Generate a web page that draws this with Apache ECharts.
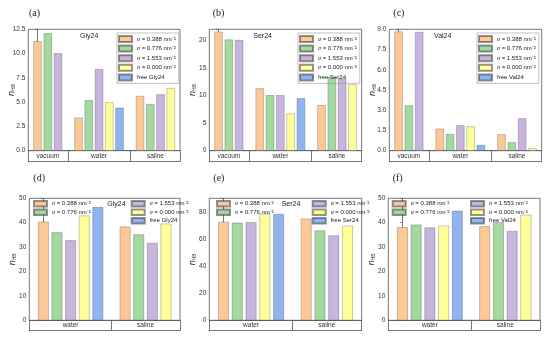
<!DOCTYPE html>
<html><head><meta charset="utf-8">
<script src="https://cdn.jsdelivr.net/npm/echarts@6/dist/echarts.min.js"></script>
<style>html,body{margin:0;padding:0;background:#fff}#c{width:550px;height:339px}</style>
</head><body><div id="c"></div>
<script>
// ---------- data ----------
const sigmaNames = ['σ = 0.388 nm⁻²', 'σ = 0.776 nm⁻²', 'σ = 1.553 nm⁻²', 'σ = 0.000 nm⁻²'];
const topGroups = ['vacuum', 'water', 'saline'];
const bottomGroups = ['water', 'saline'];

// (a) Gly24 — vacuum, water, saline
const a388 = [11.26, 3.40, 5.63];
const a776 = [12.09, 5.20, 4.80];
const a1553 = [10.03, 8.40, 5.80];
const a000 = [null, 4.98, 6.45];
const aFree = [null, 4.42, null];
// (b) Ser24
const b388 = [21.57, 11.30, 8.25];
const b776 = [20.15, 10.05, 13.37];
const b1553 = [20.05, 10.05, 13.07];
const b000 = [null, 6.75, 12.00];
const bFree = [null, 9.50, null];
// (c) Val24
const c388 = [8.83, 1.63, 1.21];
const c776 = [3.36, 1.24, 0.62];
const c1553 = [8.80, 1.88, 2.40];
const c000 = [null, 1.80, 0.18];
const cFree = [null, 0.42, null];
// (d) Gly24 — water, saline
const d388 = [40.4, 38.4];
const d776 = [36.1, 35.2];
const d1553 = [32.8, 31.7];
const d000 = [42.9, 39.6];
const dFree = [46.4, null];
// (e) Ser24
const e388 = [72.5, 75.0];
const e776 = [72.0, 66.3];
const e1553 = [72.3, 62.6];
const e000 = [78.5, 69.8];
const eFree = [78.5, null];
// (f) Val24
const f388 = [38.1, 38.5];
const f776 = [39.2, 40.2];
const f1553 = [38.0, 36.6];
const f000 = [38.8, 43.2];
const fFree = [44.9, null];

const freeNames = ['free Gly24', 'free Ser24', 'free Val24'];

// y tick settings
const yMaxes = [12.5, 22, 9, 50, 90, 50];
const yIntervals = [2.5, 5, 1.5, 10, 20, 10];
const yDecimals = [1, 0, 1, 0, 0, 0];
const panelLabels = ['(a)', '(b)', '(c)', '(d)', '(e)', '(f)'];
const innerTitles = ['Gly24', 'Ser24', 'Val24', 'Gly24', 'Ser24', ''];

// ---------- styles / layout ----------
const colors = ['#FDC897', '#A3D99F', '#C7B5DD', '#FFFF99', '#90B4EF'];
const FONT = 'Liberation Sans, Arial, sans-serif';
const SERIF = 'Liberation Serif, Times New Roman, serif';

const panels = [
  {vals: [a388, a776, a1553, a000, aFree], groups: topGroups, free: freeNames[0],
   grid: {left: 28.3, top: 29.3, width: 151.7, height: 121.4}, band: 11, pad: 0.9, barW: 8.3,
   label: [29, 8], title: [80, 33], legend: 'top', legPos: [117, 33]},
  {vals: [b388, b776, b1553, b000, bFree], groups: topGroups, free: freeNames[1],
   grid: {left: 209.3, top: 29.3, width: 152.4, height: 121.4}, band: 11, pad: 0.9, barW: 8.3,
   label: [212.7, 8], title: [253.3, 33], legend: 'top', legPos: [298, 33]},
  {vals: [c388, c776, c1553, c000, cFree], groups: topGroups, free: freeNames[2],
   grid: {left: 389.3, top: 29.3, width: 152.4, height: 121.4}, band: 11, pad: 0.9, barW: 8.3,
   label: [393.3, 8], title: [434, 33], legend: 'top', legPos: [477, 33]},
  {vals: [d388, d776, d1553, d000, dFree], groups: bottomGroups, free: freeNames[0],
   grid: {left: 29.3, top: 198.3, width: 150.7, height: 122}, band: 10.4, pad: 1.03, barW: 10.7,
   label: [33.3, 173], title: [107.3, 201], legend: 'bottom', legPos: [33, 200], legPos2: [130.7, 200]},
  {vals: [e388, e776, e1553, e000, eFree], groups: bottomGroups, free: freeNames[1],
   grid: {left: 209.3, top: 198.3, width: 152.4, height: 122}, band: 10.4, pad: 1.03, barW: 10.7,
   label: [213.3, 173], title: [281.7, 201], legend: 'bottom', legPos: [216, 200], legPos2: [311.7, 200]},
  {vals: [f388, f776, f1553, f000, fFree], groups: bottomGroups, free: freeNames[2],
   grid: {left: 388.3, top: 198.3, width: 151.7, height: 122}, band: 10.4, pad: 1.03, barW: 10.7,
   label: [392.7, 173], title: [0, 0], legend: 'bottom', legPos: [391.7, 200], legPos2: [470, 200]}
];

function slotLayout(vals, nGroups) {
  const pos = vals.map(() => []);
  const centers = [], seps = [];
  let start = 0;
  for (let g = 0; g < nGroups; g++) {
    let k = 0;
    vals.forEach((v, s) => { if (v[g] != null) { pos[s][g] = start + k; k++; } });
    centers.push(start + (k - 1) / 2);
    start += k;
    if (g < nGroups - 1) { seps.push(start); start += 1; }
  }
  return {pos, centers, seps, last: start - 1};
}

const grids = [], xAxes = [], yAxes = [], series = [], legends = [], titles = [];
const AX = '#555', TX = '#333';

function legendFormatter(name) {
  return name.charAt(0) === 'σ' ? '{i|σ}' + name.slice(1) : name;
}

panels.forEach((p, i) => {
  const nG = p.groups.length;
  const L = slotLayout(p.vals, nG);
  const xmin = -p.pad, xmax = L.last + p.pad;
  grids.push(Object.assign({show: true, borderColor: AX, borderWidth: 0.8, containLabel: false}, p.grid));
  // bar axis
  xAxes.push({gridIndex: i, type: 'value', min: xmin, max: xmax, position: 'bottom',
    axisLine: {show: true, onZero: false, lineStyle: {color: AX, width: 0.8}},
    axisTick: {show: false}, axisLabel: {show: false}, splitLine: {show: false}});
  // category band axis
  const centers = L.centers;
  const groups = p.groups;
  xAxes.push({gridIndex: i, type: 'value', min: xmin, max: xmax, position: 'bottom', offset: p.band,
    axisLine: {show: true, onZero: false, lineStyle: {color: AX, width: 0.8}},
    axisTick: {show: true, inside: true, length: p.band, customValues: [xmin].concat(L.seps, [xmax]),
      lineStyle: {color: AX, width: 0.8}},
    axisLabel: {show: true, inside: true, margin: 2, customValues: centers, fontSize: 6.5, color: TX, fontFamily: FONT,
      formatter: v => { for (let g = 0; g < centers.length; g++) if (Math.abs(v - centers[g]) < 0.01) return groups[g]; return ''; }},
    splitLine: {show: false}});
  const dec = yDecimals[i], ymax = yMaxes[i], yint = yIntervals[i];
  yAxes.push({gridIndex: i, type: 'value', min: 0, max: ymax, interval: yint,
    name: '{n|n}{s|HB}', nameLocation: 'middle', nameRotate: 90, nameGap: 12, nameMoveOverlap: false,
    nameTextStyle: {rich: {n: {fontStyle: 'italic', fontSize: 9, fontFamily: FONT, color: '#222', lineHeight: 10, verticalAlign: 'middle'},
      s: {fontSize: 5, fontFamily: FONT, color: '#222', lineHeight: 10, verticalAlign: 'bottom', padding: [4, 0, 0, 0]}}},
    axisLine: {show: true, lineStyle: {color: AX, width: 0.8}},
    axisTick: {show: true, inside: false, length: 2.5, lineStyle: {color: AX, width: 0.7}},
    minorTick: {show: true, splitNumber: 2, length: 1.5, lineStyle: {color: AX, width: 0.6}},
    axisLabel: {fontSize: 6.5, color: TX, fontFamily: FONT, margin: 3, showMaxLabel: (ymax % yint === 0),
      formatter: v => (Math.abs(v / yint - Math.round(v / yint)) < 1e-6 ? v.toFixed(dec) : '')},
    splitLine: {show: false}});
  const names = sigmaNames.concat([p.free]);
  p.vals.forEach((v, s) => {
    const data = [];
    for (let g = 0; g < nG; g++) if (v[g] != null) data.push([L.pos[s][g], v[g]]);
    series.push({type: 'bar', name: names[s], xAxisIndex: i * 2, yAxisIndex: i, data,
      barWidth: p.barW, barGap: '-100%',
      itemStyle: {color: colors[s], borderColor: 'rgba(60,60,60,0.55)', borderWidth: 0.5}});
  });
  const richL = {i: {fontStyle: 'italic', fontSize: 6, fontFamily: SERIF, color: '#222'}};
  if (p.legend === 'top') {
    legends.push({orient: 'vertical', left: p.legPos[0], top: p.legPos[1], data: names, icon: 'rect',
      itemWidth: 13, itemHeight: 6, itemGap: 1.6, padding: [2, 3, 2, 1], borderColor: '#999', borderWidth: 0.6,
      selectedMode: false, formatter: legendFormatter,
      textStyle: {fontSize: 6, lineHeight: 6.3, color: '#222', fontFamily: FONT, rich: richL}});
  } else {
    legends.push({orient: 'vertical', left: p.legPos[0], top: p.legPos[1], data: names.slice(0, 2), icon: 'rect',
      itemWidth: 13, itemHeight: 5.5, itemGap: 1, padding: 0, selectedMode: false, formatter: legendFormatter,
      textStyle: {fontSize: 6, lineHeight: 6, color: '#222', fontFamily: FONT, rich: richL}});
    legends.push({orient: 'vertical', left: p.legPos2[0], top: p.legPos2[1], data: names.slice(2), icon: 'rect',
      itemWidth: 13, itemHeight: 5.5, itemGap: 1, padding: 0, selectedMode: false, formatter: legendFormatter,
      textStyle: {fontSize: 6, lineHeight: 6, color: '#222', fontFamily: FONT, rich: richL}});
  }
  titles.push({text: panelLabels[i], left: p.label[0], top: p.label[1], padding: 0,
    textStyle: {fontSize: 10, fontWeight: 'normal', fontFamily: SERIF, color: '#222'}});
  if (innerTitles[i]) titles.push({text: innerTitles[i], left: p.title[0], top: p.title[1], padding: 0,
    textStyle: {fontSize: 7, fontWeight: 'normal', fontFamily: FONT, color: '#222'}});
});

const chart = echarts.init(document.getElementById('c'), null, {renderer: 'canvas'});
chart.setOption({animation: false, backgroundColor: '#fff', title: titles, legend: legends,
  grid: grids, xAxis: xAxes, yAxis: yAxes, series});
</script></body></html>
